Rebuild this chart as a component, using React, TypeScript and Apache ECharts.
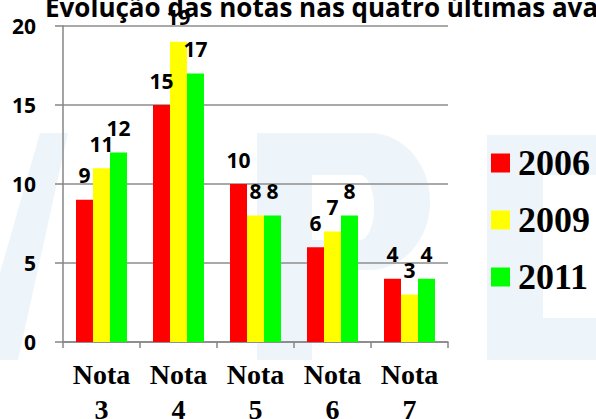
import React, { useEffect, useRef } from "react";
import * as echarts from "echarts";

const categories = ["Nota\n3", "Nota\n4", "Nota\n5", "Nota\n6", "Nota\n7"];
const seriesNames = ["2006", "2009", "2011"];
const values2006 = [9, 15, 10, 6, 4];
const values2009 = [11, 19, 8, 7, 3];
const values2011 = [12, 17, 8, 8, 4];
const colors = ["#ff0000", "#ffff00", "#00ff00"];
const titleText = "Evolução das notas nas quatro últimas avaliações";

const WM = "#eef5fa";

export default function App() {
  const ref = useRef<HTMLDivElement>(null);
  useEffect(() => {
    if (!ref.current) return;
    const chart = echarts.init(ref.current, undefined, { renderer: "svg" });
    const data = [values2006, values2009, values2011];
    const labelStyle = {
      show: true,
      position: "top",
      distance: 14,
      fontFamily: "Open Sans",
      fontWeight: "bold",
      fontSize: 21,
      color: "#000",
    };
    chart.setOption({
      animation: false,
      backgroundColor: "#fff",
      title: {
        text: titleText,
        left: 40,
        top: -11,
        textStyle: { fontFamily: "Open Sans", fontWeight: "bold", fontSize: 26, color: "#000" },
      },
      graphic: [
        { type: "polygon", z: -10, silent: true, shape: { points: [[-25, 360], [40, 133], [68, 133], [18, 360]] }, style: { fill: WM } },
        { type: "rect", z: -10, silent: true, shape: { x: 257, y: 133, width: 55, height: 227 }, style: { fill: WM } },
        { type: "rect", z: -10, silent: true, shape: { x: 300, y: 133, width: 70, height: 137 }, style: { fill: WM } },
        { type: "ellipse", z: -10, silent: true, shape: { cx: 370, cy: 201.5, rx: 60, ry: 68.5 }, style: { fill: WM } },
        { type: "rect", z: -9, silent: true, shape: { x: 312, y: 175, width: 48, height: 65 }, style: { fill: "#fff" } },
        { type: "ellipse", z: -9, silent: true, shape: { cx: 360, cy: 207.5, rx: 14, ry: 32.5 }, style: { fill: "#fff" } },
        { type: "rect", z: -10, silent: true, shape: { x: 487, y: 135, width: 56, height: 225 }, style: { fill: WM } },
        { type: "rect", z: -10, silent: true, shape: { x: 487, y: 135, width: 109, height: 40 }, style: { fill: WM } },
        { type: "rect", z: -10, silent: true, shape: { x: 487, y: 318, width: 109, height: 42 }, style: { fill: WM } },
      ],
      legend: {
        orient: "vertical",
        left: 486,
        top: 140,
        itemWidth: 19,
        itemHeight: 19,
        itemGap: 21,
        icon: "rect",
        data: seriesNames,
        textStyle: { fontFamily: "Liberation Serif", fontWeight: "bold", fontSize: 36, color: "#000", padding: [0, 0, 0, 3] },
      },
      grid: { left: 63, right: 148, top: 26, bottom: 77, outerBoundsMode: "none", containLabel: false },
      xAxis: {
        type: "category",
        data: categories,
        axisLine: { lineStyle: { color: "#868686", width: 1.5 } },
        axisTick: { show: true, length: 6, lineStyle: { color: "#868686", width: 1.5 } },
        axisLabel: {
          margin: 15,
          fontFamily: "Liberation Serif",
          fontWeight: "bold",
          fontSize: 28,
          lineHeight: 35,
          color: "#000",
        },
      },
      yAxis: {
        type: "value",
        min: 0,
        max: 20,
        interval: 5,
        axisLine: { show: true, lineStyle: { color: "#868686", width: 1.5 } },
        axisTick: { show: true, length: 8, lineStyle: { color: "#868686", width: 1.5 } },
        splitLine: { lineStyle: { color: "#8c8c8c", width: 1.5 } },
        axisLabel: {
          margin: 27,
          fontFamily: "Open Sans",
          fontWeight: "bold",
          fontSize: 21,
          color: "#000",
        },
      },
      series: seriesNames.map((name, i) => ({
        name,
        type: "bar",
        data: data[i],
        barWidth: 17,
        barGap: "0%",
        itemStyle: { color: colors[i] },
        label: labelStyle,
      })),
    });
    return () => chart.dispose();
  }, []);
  return <div ref={ref} style={{ width: 596, height: 419, position: "absolute", left: 0, top: 0 }} />;
}
